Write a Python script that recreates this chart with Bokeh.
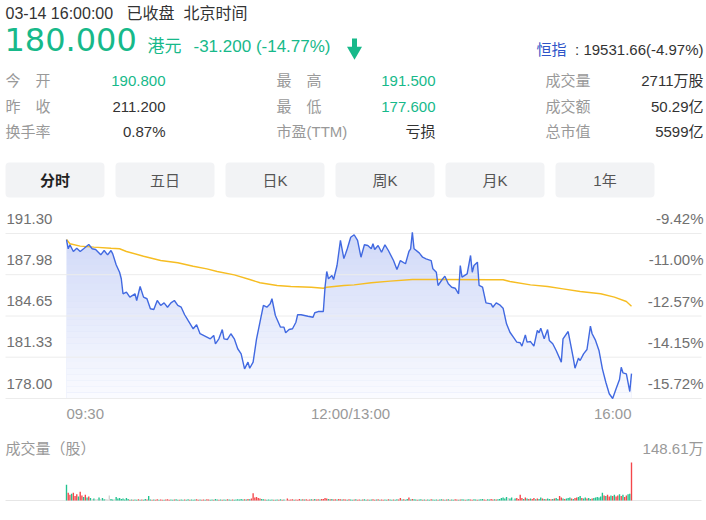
import numpy as np
from bokeh.plotting import figure
from bokeh.layouts import column
from bokeh.models import Range1d
from bokeh.core.properties import value
from bokeh.embed import file_html
from bokeh.resources import INLINE

# ---------------- data ----------------
prev_close = 211.2
price_min = [0, 1, 2, 4, 6, 8, 10, 13, 15, 17, 20, 22, 24, 26, 27, 29, 31, 32, 33, 35,
             37, 40, 41, 43, 45, 47, 49, 51, 53, 55, 57, 59, 61, 63, 65, 67, 69, 71, 74, 76,
             78, 82, 84, 86, 87, 89, 91, 92, 94, 96, 98, 100, 102, 104, 106, 107, 109, 111, 113, 115,
             117, 119, 120, 122, 125, 127, 128, 130, 132, 134, 135, 137, 141, 144, 145, 147, 150, 151, 152, 153,
             155, 156, 158, 160, 162, 163, 164, 166, 168, 170, 172, 174, 176, 178, 179, 180, 182, 184, 186, 188,
             191, 193, 195, 198, 200, 201, 202, 203, 206, 208, 210, 213, 214, 216, 217, 219, 221, 223, 225, 227,
             229, 230, 231, 234, 236, 237, 238, 240, 241, 243, 245, 248, 249, 251, 253, 255, 257, 259, 261, 263,
             265, 266, 268, 269, 271, 273, 275, 276, 277, 279, 281, 282, 284, 286, 289, 290, 293, 294, 296, 297,
             299, 300, 302, 304, 306, 307, 309, 311, 313, 315, 317, 319, 321, 323, 324, 325, 327, 329, 330]
price_val = [190.80, 190.07, 190.39, 189.85, 190.11, 189.85, 190.07, 190.41, 190.07, 190.01,
             189.58, 189.93, 189.58, 189.93, 189.66, 188.78, 188.18, 187.65, 186.44, 186.57,
             186.17, 186.44, 185.90, 187.03, 186.17, 186.04, 185.23, 185.17, 185.90, 185.50,
             185.71, 185.36, 185.71, 185.90, 185.50, 185.36, 184.75, 184.29, 183.62, 183.94,
             183.22, 182.95, 182.81, 183.08, 182.41, 182.81, 183.56, 182.81, 182.76, 183.22,
             182.81, 182.01, 181.60, 180.39, 180.93, 180.44, 180.93, 182.81, 184.15, 185.50,
             185.36, 185.63, 186.04, 184.69, 183.75, 183.75, 183.30, 183.56, 183.62, 184.15,
             184.75, 184.75, 184.63, 184.55, 184.91, 185.01, 185.01, 186.97, 188.24, 187.65,
             187.91, 187.59, 188.72, 190.74, 189.28, 189.66, 190.07, 191.00, 191.20, 190.74,
             189.39, 190.39, 190.33, 190.07, 190.47, 190.01, 190.33, 189.79, 190.39, 189.93,
             189.12, 188.40, 189.12, 188.86, 189.85, 190.07, 191.40, 190.07, 189.74, 189.39,
             189.26, 189.12, 188.45, 188.18, 187.11, 187.51, 187.86, 187.25, 186.97, 186.89,
             186.44, 188.72, 187.78, 188.05, 189.53, 188.18, 188.72, 188.99, 187.11, 186.97,
             185.71, 185.63, 185.36, 185.71, 185.55, 185.28, 184.02, 183.34, 182.94, 182.54,
             182.49, 182.22, 183.13, 182.54, 182.59, 182.22, 183.48, 183.30, 183.67, 182.81,
             183.56, 182.68, 182.41, 181.87, 180.93, 182.81, 183.40, 182.68, 181.25, 180.44,
             181.25, 181.06, 181.60, 181.95, 183.83, 183.22, 182.68, 181.87, 180.39, 179.31,
             178.38, 178.00, 178.78, 179.53, 180.52, 180.07, 179.99, 178.56, 180.00]
avg_min = [0, 2, 8, 16, 26, 31, 35, 45, 55, 65, 74, 82, 88, 98, 107, 113, 123, 131, 143, 150,
           152, 162, 168, 178, 189, 202, 218, 248, 255, 259, 271, 281, 290, 300, 312, 320, 327, 330]
avg_val = [190.82, 190.47, 190.28, 190.20, 190.11, 190.07, 189.85, 189.47, 189.12, 188.94,
           188.66, 188.45, 188.24, 187.97, 187.59, 187.33, 187.11, 187.03, 186.97, 186.89,
           186.97, 187.11, 187.16, 187.33, 187.46, 187.59, 187.59, 187.57, 187.57, 187.43,
           187.16, 187.03, 186.84, 186.62, 186.44, 186.17, 185.82, 185.44]
price_ticks = [178.00, 181.33, 184.65, 187.98, 191.30]
price_tick_labels = ["178.00", "181.33", "184.65", "187.98", "191.30"]
pct_tick_labels = ["-15.72%", "-14.15%", "-12.57%", "-11.00%", "-9.42%"]
time_labels = ["09:30", "12:00/13:00", "16:00"]

# volume per minute (万股) and direction (g=down, r=up, n=flat)
volume = [62, 30, 22, 26, 30, 18, 24, 16, 34, 20,
          14, 22, 12, 16, 10, 6, 8, 5, 6, 12,
          6, 10, 5, 6, 4, 20, 6, 4, 5, 14,
          8, 10, 6, 8, 4, 10, 6, 3, 4, 3,
          4, 3, 5, 3, 4, 3, 6, 4, 18, 4,
          3, 4, 3, 5, 3, 4, 3, 3, 4, 5,
          3, 4, 3, 4, 5, 3, 3, 4, 3, 4,
          3, 5, 3, 4, 3, 4, 5, 3, 4, 3,
          4, 3, 5, 4, 3, 4, 3, 6, 4, 3,
          4, 3, 4, 3, 5, 4, 3, 4, 3, 4,
          5, 4, 6, 4, 5, 4, 6, 5, 8, 28,
          12, 14, 10, 8, 6, 5, 4, 3, 4, 3,
          4, 3, 3, 4, 3, 5, 3, 4, 3, 8,
          3, 4, 5, 3, 4, 3, 6, 4, 5, 4,
          5, 3, 4, 5, 4, 6, 4, 5, 4, 6,
          6,
          10, 8, 6, 5, 6, 4, 5, 4, 6, 5,
          4, 5, 4, 3, 5, 4, 3, 4, 5, 3,
          4, 3, 4, 5, 3, 4, 3, 4, 5, 3,
          4, 5, 3, 4, 3, 4, 3, 5, 4, 3,
          4, 3, 5, 4, 10, 4, 5, 3, 6, 12,
          4, 6, 5, 4, 3, 4, 5, 3, 4, 3,
          4, 3, 5, 4, 3, 4, 3, 4, 5, 4,
          3, 4, 5, 3, 4, 3, 5, 4, 3, 4,
          5, 4, 3, 4, 5, 4, 3, 5, 4, 3,
          4, 5, 6, 4, 3, 5, 4, 6, 4, 5,
          4, 5, 6, 10, 12, 8, 14, 10, 8, 12,
          4, 8, 10, 6, 22, 10, 6, 12, 8, 6,
          8, 6, 10, 5, 8, 6, 12, 8, 6, 5,
          8, 6, 5, 6, 8, 10, 6, 18, 12, 8,
          6, 8, 10, 12, 8, 6, 10, 12, 14, 18,
          10, 8, 12, 8, 10, 6, 8, 10, 12, 14,
          12, 16, 30, 20, 18, 22, 16, 20, 18, 22,
          16, 20, 24, 18, 22, 14, 20, 24, 26,
          148.61]
vol_dir = ("grrgrrrgrr" "grgrgngnng" "nggnnnggng" "gggggggrgr"
           "ggrgrggrgg" "rgrrgrrgrr" "rggrggrggr" "ggrgggrrgr"
           "rgrrggrggr" "grggrggrgg" "ggggrgrgrr" "rrrrggrggg"
           "grggrgrgnr" "rrrgrrrgrg" "rrrgrgrrgr" "r"
           "rrgrgrrgrr" "grrgrggrgr" "rgrggrggrr" "grgrrggrgg"
           "rggrrgrggr" "grggrggrgr" "ggrgggrggr" "grgrggrrgr"
           "ggrggrrggr" "gggrrggrrg" "rggggggngg" "ngrrrrgrgr"
           "grrgrggrgr" "ggrgrggrrg" "rgggrgrrgg" "rggrggrggg"
           "gggrgrrgrg" "rrgrgrrgg" "r")
vol_max_label = "148.61万"

# ---------------- header texts ----------------
title_parts = ["03-14 16:00:00", "已收盘", "北京时间"]
last_price = "180.000"
currency = "港元"
change_text = "-31.200 (-14.77%)"
index_name = "恒指"
index_value = ": 19531.66(-4.97%)"
stat_labels = [["今\u3000开", "昨\u3000收", "换手率"],
               ["最\u3000高", "最\u3000低", "市盈(TTM)"],
               ["成交量", "成交额", "总市值"]]
stat_values = [["190.800", "211.200", "0.87%"],
               ["191.500", "177.600", "亏损"],
               ["2711万股", "50.29亿", "5599亿"]]
stat_colors = [["green", "dark", "dark"],
               ["green", "green", "dark"],
               ["dark", "dark", "dark"]]
tabs = ["分时", "五日", "日K", "周K", "月K", "1年"]

# ---------------- style ----------------
W = 706
FONT = "Liberation Sans, Noto Sans CJK SC"
GREEN = "#17b98a"
DARK = "#333333"
GRAY = "#999999"
AXIS_GRAY = "#707070"
BLUE = "#4169e1"
GOLD = "#f6bd22"
BAR_COL = {"g": "#22c28f", "r": "#f4474b", "n": "#d3d3d3"}


def mkfig(h, xr, yr):
    f = figure(width=W, height=h, x_range=xr, y_range=yr, output_backend="svg",
               toolbar_location=None, min_border=0, x_axis_type=None, y_axis_type=None)
    f.outline_line_color = None
    f.background_fill_color = "white"
    f.border_fill_color = "white"
    f.grid.visible = False
    return f


def txt(f, x, y, s, size, color, align="left", baseline="middle", font=FONT,
        style="normal"):
    f.text(x=[x], y=[y], text=[s], text_font=value(font), text_font_size=size,
           text_color=color, text_align=align, text_baseline=baseline,
           text_font_style=style)


# ---------------- header ----------------
HH = 205
h = mkfig(HH, Range1d(0, W), Range1d(HH, 0))
txt(h, 5, 13, title_parts[0], "16px", DARK)
txt(h, 126, 13, title_parts[1], "16px", DARK)
txt(h, 183, 13, title_parts[2], "16px", DARK)
txt(h, 4, 39, last_price, "32px", GREEN, font="DejaVu Sans")
txt(h, 147, 46, currency, "17px", GREEN)
txt(h, 193, 46, change_text, "17px", GREEN)
# down arrow icon
h.quad(left=[351.5], right=[356.5], top=[38], bottom=[47], color=GREEN, line_color=None)
h.scatter(x=[354], y=[50.5], marker="inverted_triangle", size=15, color=GREEN, line_color=None)
txt(h, 703, 49, index_value, "15px", DARK, align="right")
txt(h, 566, 49, index_name, "15px", "#2f54c8", align="right")

col_lab_x = [5, 276, 545]
col_val_x = [165, 435, 703]
row_y = [80, 106, 131]
for c in range(3):
    for r in range(3):
        txt(h, col_lab_x[c], row_y[r], stat_labels[c][r], "15px", GRAY)
        colr = GREEN if stat_colors[c][r] == "green" else DARK
        txt(h, col_val_x[c], row_y[r], stat_values[c][r], "15px", colr, align="right")

for i, t in enumerate(tabs):
    l = 5 + 110 * i
    h.quad(left=[l], right=[l + 99], top=[162], bottom=[197], fill_color="#f2f3f5",
           line_color=None, border_radius=4)
    txt(h, l + 49.5, 180, t, "15px", "#222222" if i == 0 else "#555555",
        align="center", style="bold" if i == 0 else "normal")

# ---------------- price chart ----------------
PH = 225
PX_PER_MIN = (631 - 66) / 330.0
x0 = -66 / PX_PER_MIN
x1 = x0 + W / PX_PER_MIN
PX_PER_PRICE = (398 - 233) / (191.30 - 178.00)
y0 = 178.00 - (PH - (398 - 205)) / PX_PER_PRICE
y1 = y0 + PH / PX_PER_PRICE


def sx(px):
    return x0 + px / PX_PER_MIN


def sy(py_local):
    return y0 + (PH - py_local) / PX_PER_PRICE


p = mkfig(PH, Range1d(x0, x1), Range1d(y0, y1))
base = price_ticks[0]
p.varea(x=price_min, y1=[base] * len(price_min), y2=price_val, fill_color="#cfd8f8")
# white fade toward the bottom to imitate the gradient
n_bands = 28
top_level = max(price_val) + 0.3
edges = np.linspace(base, top_level, n_bands + 1)
for k in range(n_bands):
    frac = 1 - (k + 0.5) / n_bands
    p.quad(left=[price_min[0]], right=[price_min[-1]], bottom=[edges[k]], top=[edges[k + 1]],
           fill_color="white", fill_alpha=0.9 * frac, line_color=None)
p.segment(x0=[sx(5)] * 5, x1=[sx(701)] * 5, y0=price_ticks, y1=price_ticks,
          line_color="#ececec", line_width=1)
p.line(avg_min, avg_val, line_color=GOLD, line_width=1.4)
p.line(price_min, price_val, line_color=BLUE, line_width=1.4)
lab_shift = 15 / PX_PER_PRICE
for tv, lab, pl in zip(price_ticks, price_tick_labels, pct_tick_labels):
    txt(p, sx(6), tv + lab_shift, lab, "15px", AXIS_GRAY)
    txt(p, sx(703), tv + lab_shift, pl, "15px", AXIS_GRAY, align="right")
ty = sy(413 - 205)
txt(p, price_min[0], ty, time_labels[0], "15px", GRAY)
txt(p, sx(350), ty, time_labels[1], "15px", GRAY, align="center")
txt(p, price_min[-1], ty, time_labels[2], "15px", GRAY, align="right")

# ---------------- volume chart ----------------
VH = 90
PX_PER_VOL = 38 / 148.61
v0 = -(VH - (500 - 430)) / PX_PER_VOL
v1 = v0 + VH / PX_PER_VOL
v = mkfig(VH, Range1d(x0, x1), Range1d(v0, v1))
v.segment(x0=[sx(5)], x1=[sx(701)], y0=[0], y1=[0], line_color="#e6e6e6", line_width=1)
vx = list(range(len(volume)))
vcol = [BAR_COL[c] for c in vol_dir[:len(volume)]]
v.vbar(x=vx, width=0.8, bottom=0, top=volume, fill_color=vcol, line_color=None)
vty = v0 + (VH - (448 - 430)) / PX_PER_VOL
txt(v, sx(5), vty, "成交量（股）", "15px", GRAY)
txt(v, sx(703), vty, vol_max_label, "15px", GRAY, align="right")

layout = column(h, p, v, spacing=0)
open("out.html", "w").write(file_html(layout, INLINE))
